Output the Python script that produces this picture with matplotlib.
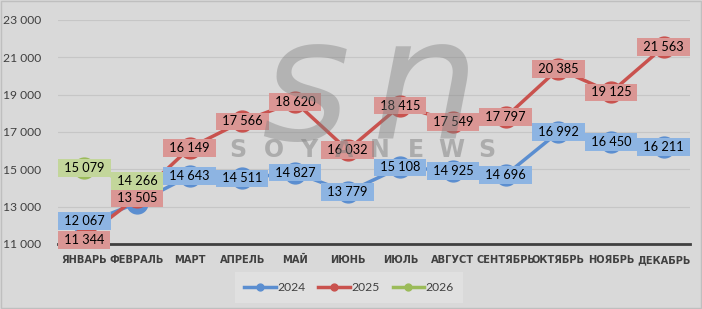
import matplotlib
matplotlib.use("Agg")
import matplotlib.pyplot as plt
from matplotlib.patches import Rectangle

months = ["ЯНВАРЬ", "ФЕВРАЛЬ", "МАРТ", "АПРЕЛЬ", "МАЙ", "ИЮНЬ", "ИЮЛЬ",
          "АВГУСТ", "СЕНТЯБРЬ", "ОКТЯБРЬ", "НОЯБРЬ", "ДЕКАБРЬ"]
s2024 = [12067, 13200, 14643, 14511, 14827, 13779, 15108, 14925, 14696, 16992, 16450, 16211]
s2025 = [11344, 13505, 16149, 17566, 18620, 16032, 18415, 17549, 17797, 20385, 19125, 21563]
s2026 = [15079, 14266]
yticks = [11000, 13000, 15000, 17000, 19000, 21000, 23000]

plt.rcParams["font.family"] = ["Lato", "DejaVu Sans"]

def fmt(v):
    return f"{v:,}".replace(",", " ")

bg = "#d9d9d9"
fig = plt.figure(figsize=(7.02, 3.09), dpi=100, facecolor=bg)
fig.patches.append(Rectangle((0.001, 0.002), 0.997, 0.995, transform=fig.transFigure,
                             fill=False, edgecolor="#bfbfbf", lw=1))
ax = fig.add_axes([58/702, 65/309, 632/702, 224/309])
ax.set_facecolor(bg)
ax.set_xlim(-0.5, 11.5)
ax.set_ylim(11000, 23000)
ax.set_yticks(yticks)
ax.set_yticklabels([fmt(v) for v in yticks], fontsize=8.7, color="#404040")
ax.set_xticks(range(12))
ax.set_xticklabels(months, fontsize=7.9, color="#404040", family="DejaVu Sans",
                   stretch="condensed", weight="bold")
ax.tick_params(axis="x", length=0, pad=8)
ax.tick_params(axis="y", length=0, pad=12)
ax.grid(axis="y", color="#c6c6c6", lw=0.8)
ax.set_axisbelow(True)
for sp in ["top", "right", "left"]:
    ax.spines[sp].set_visible(False)
ax.spines["bottom"].set_color("#404040")
ax.spines["bottom"].set_linewidth(2)

series = [
    (s2024, "2024", "#5b8ed0", "#8db4e2"),
    (s2025, "2025", "#c9524e", "#da9694"),
    (s2026, "2026", "#9bbb59", "#c3d69b"),
]
for vals, name, lc, bc in series:
    x = list(range(len(vals)))
    ax.plot(x, vals, color=lc, lw=2.5, marker="o", ms=15, mfc=lc, mec=lc,
            label=name, zorder=3)

hidden = {("2024", 1)}  # label covered in the reference
off = {("2024", 0): 150, ("2025", 0): -130, ("2026", 1): 120, ("2025", 1): -60}
for vals, name, lc, bc in series:
    for i, v in enumerate(vals):
        if (name, i) in hidden:
            continue
        dy = off.get((name, i), 0)
        ax.text(i, v + dy, " " + fmt(v) + " ", ha="center", va="center", fontsize=9.2,
                color="black", zorder=5,
                bbox=dict(boxstyle="square,pad=0.22", fc=bc, ec="none"))

# watermark
fig.text(305 / 702, 0.70, "s", fontsize=122, style="italic", color="#808080", alpha=0.42,
         ha="center", va="center", family="DejaVu Sans", zorder=10)
fig.text(425 / 702, 0.70, "n", fontsize=122, style="italic", color="#808080", alpha=0.42,
         ha="center", va="center", family="DejaVu Sans", zorder=10)
wm_letters = list("SOYANEWS")
for k, ch in enumerate(wm_letters):
    fig.text((238 + k * 35.5) / 702, 0.515, ch, fontsize=17, weight="bold",
             color="#808080", alpha=0.5, ha="center", va="center",
             family="DejaVu Sans", zorder=10)

leg = fig.legend(loc="center", bbox_to_anchor=(0.497, 0.07), ncol=3, frameon=True,
                 fontsize=8.7, handlelength=2.6, columnspacing=1.1, handletextpad=0.1,
                 markerscale=0.33, borderpad=0.5)
leg.get_frame().set_facecolor("#e2e2e2")
leg.get_frame().set_edgecolor("none")
leg.get_frame().set_boxstyle("square")
for t in leg.get_texts():
    t.set_color("#404040")
for h in leg.legend_handles:
    h.set_linewidth(2.5)

fig.savefig("out.png", dpi=100, facecolor=bg)
